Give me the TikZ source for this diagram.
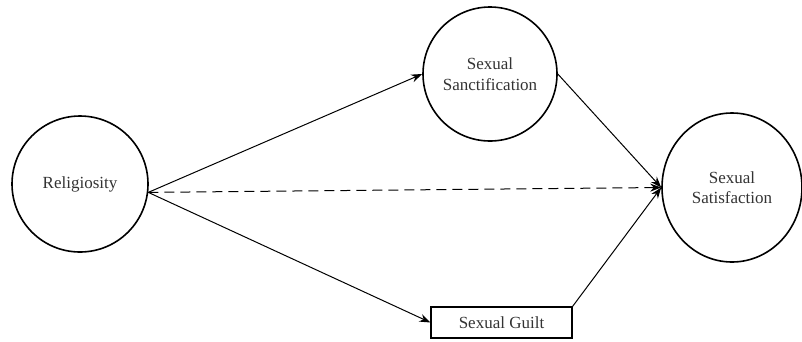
\documentclass[tikz,border=0pt]{standalone}
\usepackage{fontspec}
\setmainfont{Liberation Serif}
\usetikzlibrary{arrows.meta,shapes.geometric}
\begin{document}
\begin{tikzpicture}[x=1pt,y=-1pt,
  lbl/.style={font=\fontsize{17}{20.5}\selectfont,text=black!80},
  latent/.style={circle,draw,line width=1.6pt,inner sep=0pt,minimum size=#1,align=center,lbl},
  obs/.style={rectangle,draw,line width=1.1pt,minimum width=141pt,minimum height=31pt,inner sep=0pt,lbl},
  path/.style={line width=1pt,-{Stealth[length=11pt,width=8pt]}},
  dpath/.style={path,dash pattern=on 10pt off 6pt}]
\useasboundingbox (0,0) rectangle (802,341);
\node[latent=136pt] (rel) at (80,184) {Religiosity};
\node[latent=134pt] (san) at (490,74) {Sexual\\Sanctification};
\node[ellipse,draw,line width=1.6pt,inner sep=0pt,minimum width=140pt,minimum height=149pt,align=center,lbl] (sat) at (732,187.5) {Sexual\\Satisfaction};
\node[obs] (gui) at (501.5,322.5) {Sexual Guilt};
\coordinate (o) at (rel.-7);
\draw[path] (o) -- (san.west);
\draw[path] (o) -- (gui.west);
\draw[dpath] (o) -- (sat.west);
\draw[path] (san.east) -- (sat.west);
\draw[path] (gui.north east) -- (sat.west);
\end{tikzpicture}
\end{document}
